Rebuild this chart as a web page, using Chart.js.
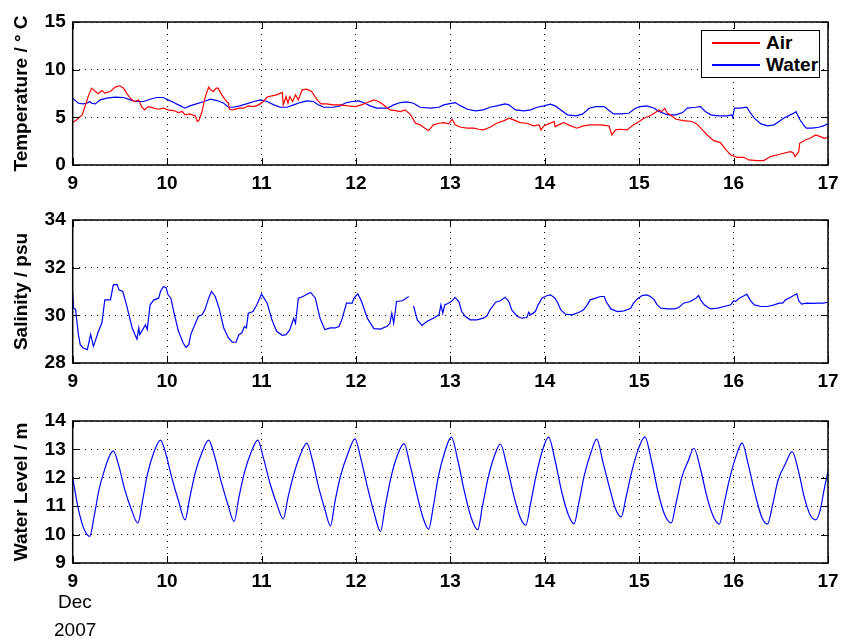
<!DOCTYPE html>
<html>
<head>
<meta charset="utf-8">
<script src="https://cdn.jsdelivr.net/npm/chart.js@4.4.1/dist/chart.umd.min.js"></script>
<style>
  body { margin: 0; background: #fff; width: 851px; height: 643px; overflow: hidden; position: relative; font-family: "Liberation Sans", Arial, sans-serif; }
  canvas { position: absolute; left: 0; }
  .legend { position: absolute; left: 701px; top: 30px; width: 117px; height: 46px; border: 1.5px solid #000; background: #fff; z-index: 2; }
  .legend .txt { position: absolute; left: 64px; height: 22px; line-height: 22px; font-weight: bold; font-size: 19px; }
  .legend .ln { position: absolute; left: 10px; width: 48px; height: 2px; }
  .date { position: absolute; font-size: 19px; }
</style>
</head>
<body>
<canvas id="tempChart"></canvas>
<canvas id="salChart"></canvas>
<canvas id="levelChart"></canvas>
<div class="legend">
  <div class="ln" style="top:11px; background:#ff0000"></div><div class="txt" style="top:1px">Air</div>
  <div class="ln" style="top:33px; background:#0000ff"></div><div class="txt" style="top:23px">Water</div>
</div>
<div class="date" style="left:58px; top:591px;">Dec</div>
<div class="date" style="left:54px; top:619px;">2007</div>
<script>
// days of December 2007
const dayTicks = [9, 10, 11, 12, 13, 14, 15, 16, 17];

const airDays = [9.00,9.04,9.10,9.13,9.17,9.20,9.24,9.27,9.31,9.34,9.40,9.45,9.50,9.54,9.57,9.61,9.65,9.70,9.73,9.76,9.80,9.86,9.91,9.96,10.01,10.07,10.12,10.16,10.19,10.24,10.30,10.32,10.34,10.37,10.40,10.44,10.46,10.49,10.52,10.54,10.58,10.61,10.65,10.66,10.70,10.76,10.81,10.86,10.92,10.97,11.02,11.06,11.11,11.16,11.22,11.23,11.26,11.28,11.30,11.33,11.36,11.39,11.43,11.48,11.53,11.59,11.63,11.69,11.76,11.83,11.92,11.99,12.06,12.12,12.19,12.24,12.29,12.36,12.42,12.47,12.52,12.58,12.63,12.68,12.73,12.77,12.82,12.88,12.93,12.98,13.02,13.05,13.11,13.18,13.25,13.30,13.35,13.42,13.49,13.57,13.62,13.67,13.74,13.81,13.88,13.94,13.96,13.99,14.04,14.10,14.11,14.17,14.20,14.25,14.34,14.41,14.48,14.59,14.68,14.71,14.75,14.80,14.87,14.94,15.00,15.05,15.10,15.16,15.21,15.24,15.27,15.30,15.33,15.39,15.47,15.56,15.61,15.67,15.72,15.79,15.86,15.92,15.97,16.04,16.11,16.16,16.25,16.32,16.39,16.46,16.53,16.60,16.63,16.65,16.69,16.70,16.76,16.81,16.87,16.92,16.96,17.00];
const airTemp = [4.45,4.73,5.26,6.13,7.36,8.06,7.71,7.47,7.82,7.54,7.71,8.17,8.31,8.06,7.54,7.01,6.66,6.83,6.13,5.78,6.13,5.96,5.85,5.96,5.78,5.71,5.50,5.61,5.26,5.36,5.15,4.56,4.73,5.61,7.01,8.17,7.89,7.71,8.06,8.06,7.36,6.90,6.48,5.85,5.78,5.96,5.96,6.20,6.13,6.31,6.66,7.12,7.26,7.36,7.61,6.31,7.19,6.48,7.19,6.66,7.36,6.83,7.89,7.96,7.71,6.83,6.41,6.41,6.31,6.31,6.20,6.13,6.31,6.55,6.83,6.66,6.31,5.78,5.71,5.61,5.78,5.26,4.38,4.21,3.86,3.61,4.21,4.38,4.45,4.31,4.80,4.21,3.96,3.86,3.86,3.75,3.68,3.96,4.38,4.66,4.91,4.73,4.45,4.38,4.10,4.21,3.68,4.10,4.31,4.56,4.03,4.31,4.45,4.21,3.86,4.10,4.21,4.21,4.10,3.15,3.68,3.75,3.68,4.21,4.56,4.91,5.08,5.43,5.78,5.61,5.96,5.43,5.26,4.80,4.66,4.56,4.31,3.68,3.15,2.56,2.35,1.58,1.05,0.81,0.81,0.53,0.46,0.46,0.88,1.05,1.23,1.40,1.30,0.88,1.40,2.28,2.63,2.80,3.15,2.98,2.80,2.91];

const waterDays = [9.00,9.02,9.06,9.11,9.15,9.18,9.20,9.24,9.29,9.36,9.45,9.54,9.61,9.66,9.75,9.82,9.89,9.96,10.01,10.07,10.14,10.19,10.24,10.31,10.39,10.46,10.53,10.60,10.65,10.70,10.77,10.84,10.92,10.99,11.06,11.13,11.20,11.27,11.34,11.41,11.48,11.55,11.60,11.66,11.76,11.83,11.90,11.97,12.03,12.08,12.15,12.22,12.33,12.40,12.47,12.54,12.61,12.68,12.79,12.88,12.93,12.98,13.05,13.11,13.18,13.27,13.35,13.42,13.49,13.58,13.62,13.69,13.78,13.85,13.92,13.99,14.06,14.11,14.17,14.24,14.33,14.40,14.47,14.54,14.63,14.68,14.73,14.80,14.89,14.96,15.01,15.08,15.16,15.21,15.30,15.39,15.46,15.51,15.60,15.65,15.70,15.76,15.84,15.93,15.98,15.99,16.01,16.07,16.14,16.18,16.22,16.29,16.36,16.43,16.48,16.53,16.60,16.65,16.66,16.70,16.74,16.77,16.83,16.90,16.95,17.00];
const waterTemp = [7.01,6.83,6.48,6.41,6.48,6.66,6.48,6.41,6.83,7.01,7.12,7.08,6.83,6.66,6.66,6.90,7.08,7.08,6.83,6.55,6.20,5.96,6.20,6.41,6.66,6.90,6.76,6.48,6.06,6.06,6.20,6.41,6.66,6.83,6.66,6.31,6.06,6.06,6.31,6.55,6.73,6.66,6.31,6.06,6.06,6.20,6.55,6.66,6.73,6.55,6.20,5.96,5.96,6.31,6.55,6.62,6.48,6.06,5.96,6.06,6.31,6.41,6.55,6.20,5.85,5.68,5.78,6.06,6.20,6.41,6.31,5.78,5.68,5.78,6.06,6.20,6.38,6.20,5.78,5.26,5.15,5.33,5.96,6.13,6.13,5.71,5.36,5.36,5.43,5.96,6.13,6.20,5.96,5.61,5.26,5.26,5.50,5.96,6.06,6.13,5.61,5.26,5.15,5.15,5.26,5.01,5.96,5.96,6.06,5.43,4.91,4.31,4.10,4.21,4.56,4.91,5.26,5.50,5.61,4.80,4.21,3.86,3.86,3.96,4.10,4.31];

// salinity, null marks the gap in the record
const salDays = [9.00,9.01,9.03,9.06,9.08,9.11,9.155,9.19,9.22,9.27,9.31,9.34,9.40,9.43,9.47,9.49,9.53,9.57,9.63,9.68,9.70,9.71,9.77,9.79,9.82,9.86,9.91,9.93,9.96,9.99,10.01,10.04,10.07,10.12,10.17,10.20,10.23,10.25,10.30,10.33,10.37,10.40,10.44,10.47,10.51,10.55,10.60,10.65,10.69,10.73,10.76,10.79,10.82,10.84,10.86,10.91,10.95,11.00,11.06,11.11,11.16,11.22,11.26,11.30,11.34,11.36,11.39,11.44,11.47,11.52,11.57,11.62,11.67,11.73,11.78,11.82,11.85,11.90,11.96,11.98,12.02,12.06,12.12,12.19,12.26,12.33,12.36,12.38,12.40,12.43,12.49,12.52,12.56,12.585,12.61,12.65,12.70,12.75,12.82,12.88,12.90,12.92,12.94,12.98,13.02,13.05,13.09,13.12,13.16,13.21,13.28,13.35,13.39,13.42,13.48,13.53,13.58,13.62,13.65,13.71,13.76,13.81,13.83,13.85,13.90,13.93,13.97,14.02,14.06,14.10,14.13,14.17,14.22,14.29,14.34,14.38,14.41,14.45,14.48,14.54,14.59,14.63,14.65,14.70,14.77,14.84,14.91,14.94,14.98,15.03,15.08,15.12,15.16,15.19,15.23,15.30,15.37,15.42,15.47,15.54,15.60,15.63,15.65,15.69,15.73,15.76,15.83,15.90,15.97,16.00,16.02,16.06,16.11,16.14,16.18,16.22,16.29,16.36,16.43,16.48,16.52,16.55,16.60,16.65,16.67,16.69,16.72,16.77,16.83,16.90,16.95,17.00];
const salinity = [30.93,30.30,30.25,29.20,28.77,28.63,28.56,29.20,28.70,29.30,29.70,30.65,30.65,31.28,31.30,31.07,31.00,30.44,29.47,29.00,29.47,29.19,29.60,29.40,30.44,30.65,30.72,31.00,31.20,31.16,30.86,30.72,30.16,29.33,28.84,28.66,28.77,29.19,29.67,29.95,30.02,30.23,30.72,31.00,30.79,30.30,29.47,29.05,28.87,28.87,29.19,29.26,29.53,29.47,30.09,30.16,30.44,30.89,30.51,29.81,29.33,29.16,29.19,29.40,29.88,29.67,30.72,30.79,30.86,30.96,30.72,29.88,29.40,29.47,29.47,29.53,29.81,30.51,30.51,30.72,30.90,30.58,29.88,29.44,29.42,29.54,29.67,30.09,29.67,30.58,30.61,30.69,30.79,null,30.40,29.81,29.58,29.74,29.88,30.02,30.44,30.09,30.44,30.51,30.61,30.75,30.58,30.16,29.95,29.81,29.81,29.88,29.99,30.23,30.55,30.61,30.76,30.58,30.23,29.95,29.88,29.91,30.13,30.02,30.16,30.44,30.72,30.82,30.86,30.75,30.58,30.23,30.05,30.02,30.09,30.16,30.23,30.44,30.65,30.72,30.79,30.79,30.58,30.27,30.16,30.19,30.30,30.51,30.69,30.83,30.86,30.79,30.65,30.44,30.30,30.27,30.27,30.33,30.51,30.58,30.72,30.83,30.65,30.44,30.33,30.27,30.30,30.37,30.44,30.61,30.58,30.72,30.82,30.89,30.61,30.44,30.37,30.37,30.44,30.51,30.51,30.65,30.75,30.86,30.90,30.61,30.47,30.51,30.50,30.51,30.51,30.55];

const levelDays = [9.00,9.06,9.12,9.18,9.23,9.28,9.33,9.38,9.43,9.49,9.55,9.62,9.69,9.74,9.79,9.86,9.93,9.99,10.05,10.12,10.19,10.24,10.30,10.37,10.44,10.50,10.57,10.64,10.71,10.76,10.82,10.89,10.96,11.02,11.09,11.16,11.23,11.28,11.34,11.41,11.48,11.54,11.61,11.67,11.73,11.78,11.84,11.92,11.99,12.05,12.12,12.19,12.26,12.31,12.37,12.44,12.51,12.57,12.64,12.71,12.77,12.82,12.87,12.94,13.01,13.08,13.15,13.22,13.29,13.34,13.40,13.47,13.53,13.60,13.67,13.74,13.80,13.85,13.91,13.97,14.04,14.11,14.18,14.25,14.31,14.36,14.42,14.49,14.55,14.62,14.69,14.75,14.81,14.86,14.92,14.99,15.06,15.13,15.20,15.27,15.34,15.39,15.45,15.52,15.58,15.65,15.72,15.79,15.85,15.90,15.96,16.03,16.09,16.16,16.23,16.30,16.36,16.41,16.47,16.55,16.62,16.69,16.75,16.81,16.87,16.92,16.96,17.00];
const waterLevel = [12.0,10.9,10.2,9.94,10.7,11.6,12.2,12.7,12.95,12.4,11.6,10.9,10.4,11.2,12.1,12.9,13.33,12.8,12.0,11.2,10.52,11.3,12.2,12.9,13.33,12.8,11.9,11.1,10.46,11.3,12.2,12.9,13.33,12.7,11.8,11.1,10.55,11.3,12.1,12.8,13.22,12.6,11.6,10.9,10.31,11.2,12.1,12.9,13.37,12.7,11.7,10.8,10.11,11.0,12.0,12.8,13.2,12.5,11.5,10.6,10.19,11.0,12.0,12.9,13.43,12.6,11.5,10.6,10.17,11.0,12.0,12.8,13.19,12.4,11.4,10.6,10.33,11.1,12.1,12.9,13.43,12.6,11.5,10.7,10.38,11.1,12.1,12.9,13.36,12.5,11.6,10.9,10.62,11.3,12.2,13.0,13.44,12.6,11.5,10.7,10.41,11.1,12.0,12.6,13.04,12.3,11.3,10.6,10.37,11.1,12.0,12.8,13.22,12.4,11.4,10.6,10.37,11.0,11.9,12.5,12.92,12.2,11.3,10.7,10.52,10.9,11.6,12.22];

const FONT = "'Liberation Sans', Arial, sans-serif";
const W = 851;

function pts(xs, ys) {
  return xs.map((x, i) => ({ x: x, y: ys[i] }));
}

// frame box and inward tick marks on all four sides
const frameTicks = {
  id: "frameTicks",
  afterDraw(chart) {
    const { ctx, chartArea: a, scales } = chart;
    ctx.save();
    ctx.strokeStyle = "#000";
    ctx.lineWidth = 1;
    ctx.beginPath();
    scales.x.ticks.forEach((t) => {
      const px = Math.round(scales.x.getPixelForValue(t.value)) + 0.5;
      ctx.moveTo(px, a.bottom); ctx.lineTo(px, a.bottom - 7);
      ctx.moveTo(px, a.top); ctx.lineTo(px, a.top + 7);
    });
    scales.y.ticks.forEach((t) => {
      const py = Math.round(scales.y.getPixelForValue(t.value)) + 0.5;
      ctx.moveTo(a.left, py); ctx.lineTo(a.left + 7, py);
      ctx.moveTo(a.right, py); ctx.lineTo(a.right - 7, py);
    });
    ctx.stroke();
    ctx.lineWidth = 1.5;
    ctx.strokeRect(a.left, a.top, a.right - a.left, a.bottom - a.top);
    ctx.restore();
  },
};

function makePanel(id, top, height, padTop, xHeight, datasets, yMin, yMax, yStep, yTitle) {
  const canvas = document.getElementById(id);
  canvas.style.top = top + "px";
  canvas.width = W;
  canvas.height = height;
  return new Chart(canvas.getContext("2d"), {
    type: "line",
    data: { datasets: datasets },
    options: {
      responsive: false,
      animation: false,
      events: [],
      layout: { padding: { top: padTop, right: 23, left: 0, bottom: 0 } },
      plugins: { legend: { display: false }, tooltip: { enabled: false } },
      elements: { point: { radius: 0 } },
      scales: {
        x: {
          type: "linear",
          min: 9,
          max: 17,
          afterBuildTicks: (s) => { s.ticks = dayTicks.map((v) => ({ value: v })); },
          afterFit: (s) => { s.height = xHeight; },
          grid: { color: "#000", lineWidth: 1, drawTicks: false },
          border: { display: false, dash: [1, 5] },
          ticks: { padding: 7, color: "#000", font: { family: FONT, size: 19, weight: "bold" } },
        },
        y: {
          min: yMin,
          max: yMax,
          afterFit: (s) => { s.width = 72.7; },
          grid: { color: "#000", lineWidth: 1, drawTicks: false },
          border: { display: false, dash: [1, 5] },
          ticks: { stepSize: yStep, padding: 7, color: "#000", font: { family: FONT, size: 19, weight: "bold" } },
          title: { display: true, text: yTitle, color: "#000", padding: { top: 10, bottom: 0 }, font: { family: FONT, size: 19, weight: "bold" } },
        },
      },
    },
    plugins: [frameTicks],
  });
}

makePanel("tempChart", 0, 195, 22, 30, [
  { label: "Air", data: pts(airDays, airTemp), borderColor: "#ff0000", borderWidth: 1.2, tension: 0 },
  { label: "Water", data: pts(waterDays, waterTemp), borderColor: "#0000ff", borderWidth: 1.2, tension: 0 },
], 0, 15, 5, "Temperature / \u00B0 C");

makePanel("salChart", 195, 200, 25, 32, [
  { label: "Salinity", data: pts(salDays, salinity), borderColor: "#0000ff", borderWidth: 1.2, tension: 0, spanGaps: false },
], 28, 34, 2, "Salinity / psu");

makePanel("levelChart", 395, 248, 26, 80, [
  { label: "Water Level", data: pts(levelDays, waterLevel), borderColor: "#0000ff", borderWidth: 1.2, cubicInterpolationMode: "monotone" },
], 9, 14, 1, "Water Level / m");
</script>
</body>
</html>
